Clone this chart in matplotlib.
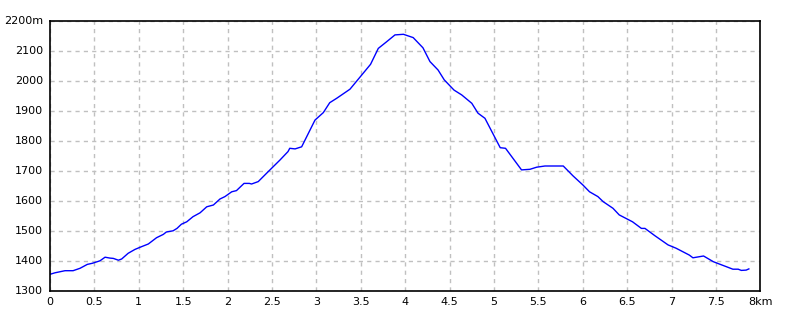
import matplotlib
matplotlib.use("Agg")
import matplotlib.pyplot as plt

dist_km = [0.0, 0.056, 0.169, 0.26, 0.338, 0.42, 0.48, 0.563, 0.62, 0.676, 0.713, 0.77, 0.807,
           0.88, 0.957, 1.03, 1.107, 1.20, 1.276, 1.31, 1.386, 1.43, 1.48, 1.54, 1.61, 1.69,
           1.765, 1.84, 1.914, 1.97, 2.046, 2.10, 2.185, 2.245, 2.27, 2.345, 2.477, 2.59,
           2.68, 2.70, 2.76, 2.834, 2.984, 3.078, 3.15, 3.23, 3.378, 3.49, 3.61, 3.697, 3.79,
           3.885, 3.98, 4.09, 4.20, 4.279, 4.37, 4.44, 4.55, 4.636, 4.75, 4.82, 4.898,
           5.07, 5.13, 5.31, 5.405, 5.48, 5.574, 5.78, 5.89, 6.00, 6.076, 6.17, 6.23, 6.34,
           6.41, 6.56, 6.66, 6.70, 6.81, 6.96, 7.05, 7.20, 7.24, 7.32, 7.36, 7.47, 7.54,
           7.62, 7.69, 7.75, 7.785, 7.84, 7.87]
elev_m = [1354, 1359, 1366, 1366, 1374, 1387, 1391, 1399, 1411, 1408, 1407, 1401, 1405,
          1424, 1437, 1446, 1455, 1476, 1487, 1495, 1499, 1507, 1521, 1529, 1546, 1559,
          1579, 1585, 1605, 1613, 1629, 1633, 1657, 1657, 1655, 1663, 1702, 1735,
          1763, 1774, 1772, 1779, 1868, 1893, 1926, 1941, 1971, 2011, 2054, 2107, 2129,
          2152, 2154, 2143, 2109, 2063, 2035, 2002, 1968, 1952, 1924, 1891, 1874,
          1776, 1774, 1702, 1704, 1711, 1715, 1715, 1682, 1652, 1629, 1613, 1596, 1574,
          1552, 1529, 1507, 1507, 1483, 1452, 1441, 1418, 1409, 1413, 1415, 1396, 1388,
          1379, 1371, 1371, 1367, 1368, 1372]

x_ticks = [0, 0.5, 1, 1.5, 2, 2.5, 3, 3.5, 4, 4.5, 5, 5.5, 6, 6.5, 7, 7.5, 8]
x_labels = ["0", "0.5", "1", "1.5", "2", "2.5", "3", "3.5", "4", "4.5", "5", "5.5",
            "6", "6.5", "7", "7.5", "8km"]
y_ticks = [1300, 1400, 1500, 1600, 1700, 1800, 1900, 2000, 2100, 2200]
y_labels = ["1300", "1400", "1500", "1600", "1700", "1800", "1900", "2000", "2100", "2200m"]

fig = plt.figure(figsize=(8, 3.2), dpi=100)
ax = fig.add_axes([50/800, 1-290.5/320, 710.4/800, 270/320])
ax.plot(dist_km, elev_m, color="#0000ff", linewidth=1.0)
ax.set_xlim(0, 8)
ax.set_ylim(1300, 2200)
ax.set_xticks(x_ticks)
ax.set_xticklabels(x_labels)
ax.set_yticks(y_ticks)
ax.set_yticklabels(y_labels)
ax.tick_params(length=0, labelsize=8, pad=5, colors="black")
ax.grid(True, color="#c0c0c0", linestyle=(0, (3, 3)), linewidth=1)
for s in ax.spines.values():
    s.set_color("black")
    s.set_linewidth(1.2)
fig.savefig("out.png", dpi=100, facecolor="white")
